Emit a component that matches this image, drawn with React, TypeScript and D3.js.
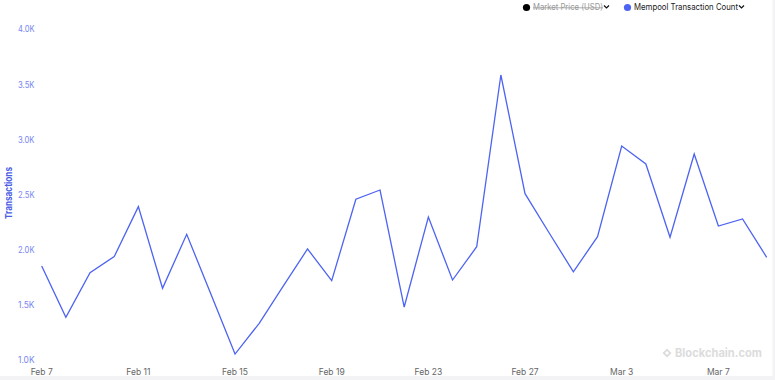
import React from "react";
import * as d3 from "d3";

const dates: string[] = [
  "2023-02-07","2023-02-08","2023-02-09","2023-02-10","2023-02-11","2023-02-12","2023-02-13",
  "2023-02-14","2023-02-15","2023-02-16","2023-02-17","2023-02-18","2023-02-19","2023-02-20",
  "2023-02-21","2023-02-22","2023-02-23","2023-02-24","2023-02-25","2023-02-26","2023-02-27",
  "2023-02-28","2023-03-01","2023-03-02","2023-03-03","2023-03-04","2023-03-05","2023-03-06",
  "2023-03-07","2023-03-08","2023-03-09",
];
const mempoolCounts: number[] = [
  1853, 1388, 1792, 1938, 2392, 1651, 2141,
  1599, 1054, 1333, 1672, 2008, 1720, 2459,
  2543, 1481, 2298, 1726, 2028, 3587, 2510,
  2153, 1801, 2119, 2942, 2779, 2114, 2870,
  2216, 2280, 1932,
];
const xTickDates: string[] = [
  "2023-02-07","2023-02-11","2023-02-15","2023-02-19","2023-02-23","2023-02-27","2023-03-03","2023-03-07",
];
const yTicks: number[] = [1000, 1500, 2000, 2500, 3000, 3500, 4000];

const W = 775;
const H = 380;
const FONT = "Inter, 'Open Sans', sans-serif";

export default function App() {
  const parse = d3.utcParse("%Y-%m-%d");
  const data = dates.map((d, i) => ({ date: parse(d) as Date, value: mempoolCounts[i] }));
  const x = d3
    .scaleUtc()
    .domain([data[0].date, data[data.length - 1].date])
    .range([41.7, 766.7]);
  const y = d3.scaleLinear().domain([1000, 4000]).range([360, 29.5]);
  const line = d3
    .line<{ date: Date; value: number }>()
    .x((d) => x(d.date))
    .y((d) => y(d.value));
  const fmtX = d3.utcFormat("%b %-d");
  const fmtY = (v: number) => (v / 1000).toFixed(1) + "K";

  return (
    <svg
      width={W}
      height={H}
      style={{ position: "absolute", left: 0, top: 0, display: "block", background: "#fff" }}
      fontFamily={FONT}
    >
      {/* frame edges */}
      <rect x={0} y={376} width={W} height={4} fill="#f3f3f5" />
      <rect x={772.5} y={0} width={2.5} height={H} fill="#f3f3f5" />

      {/* y axis ticks */}
      {yTicks.map((t) => (
        <text key={t} x={18} y={y(t)} dy="0.35em" fontSize={8.5} fill="#7886f0" textLength={16.5} lengthAdjust="spacingAndGlyphs">
          {fmtY(t)}
        </text>
      ))}
      <text
        transform={`translate(11.8,${193}) rotate(-90)`}
        textAnchor="middle"
        fontSize={9.5}
        fontWeight={700}
        fill="#4a5ee6"
        textLength={52}
        lengthAdjust="spacingAndGlyphs"
      >
        Transactions
      </text>

      {/* x axis ticks */}
      {xTickDates.map((d) => {
        const dt = parse(d) as Date;
        return (
          <text key={d} x={x(dt)} y={372} dy="0.35em" textAnchor="middle" fontSize={8.5} fill="#666">
            {fmtX(dt)}
          </text>
        );
      })}

      {/* watermark */}
      <g fill="#dcdcdc">
        <path d="M667,348.5 L671.5,353 L667,357.5 L662.5,353 Z M667,351 L669,353 L667,355 L665,353 Z" fillRule="evenodd" />
        <text x={675} y={353} dy="0.35em" fontSize={11.5} fontWeight={700} textLength={87} lengthAdjust="spacingAndGlyphs">
          Blockchain.com
        </text>
      </g>

      {/* line */}
      <path d={line(data) || ""} fill="none" stroke="#4d63f2" strokeWidth={1.3} strokeLinejoin="miter" />

      {/* legend */}
      <g fontSize={8.5}>
        <circle cx={526.5} cy={7.5} r={3.6} fill="#000" />
        <text x={533} y={7.5} dy="0.35em" fill="#999" textLength={70} lengthAdjust="spacingAndGlyphs">
          Market Price (USD)
        </text>
        <line x1={533} x2={603} y1={7.8} y2={7.8} stroke="#999" strokeWidth={0.8} />
        <path d="M604,5.5 L606.5,8 L609,5.5" fill="none" stroke="#111" strokeWidth={1.2} />
        <circle cx={627.5} cy={7.5} r={3.6} fill="#4d63f2" />
        <text x={634} y={7.5} dy="0.35em" fill="#222" textLength={104} lengthAdjust="spacingAndGlyphs">
          Mempool Transaction Count
        </text>
        <path d="M739,5.5 L741.5,8 L744,5.5" fill="none" stroke="#111" strokeWidth={1.2} />
      </g>
    </svg>
  );
}
